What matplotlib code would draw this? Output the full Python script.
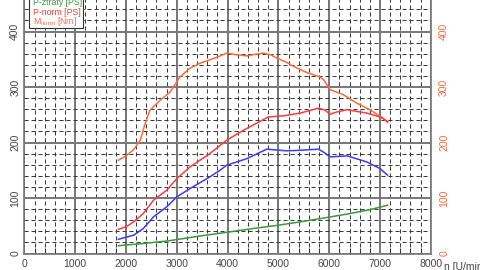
import matplotlib
matplotlib.use("Agg")
import matplotlib.pyplot as plt
from matplotlib.patches import Rectangle
from matplotlib.ticker import MultipleLocator

plt.rcParams["font.family"] = ["Liberation Sans", "DejaVu Sans"]
plt.rcParams["mathtext.default"] = "regular"

# values
m_norm_rpm = [1850, 2000, 2150, 2280, 2380, 2470, 2670, 2870, 3060, 3260, 3460, 3650,
              3800, 3980, 4180, 4380, 4550, 4700, 4850, 4970, 5150, 5300, 5560, 5820,
              5890, 6020, 6280, 6540, 6800, 7060, 7150]
m_norm = [168, 176, 187, 204, 235, 258, 276, 291, 318, 334, 343, 349,
          354, 361, 358, 356, 359, 361, 358, 352, 345, 337, 326, 318,
          313, 295, 286, 271, 259, 244, 236]

p_norm_rpm = [1850, 2000, 2150, 2340, 2540, 2800, 3000, 3260, 3650, 3980, 4310, 4800,
              5100, 5430, 5790, 5920, 6020, 6150, 6350, 6740, 7000, 7150]
p_norm = [43.5, 48, 57, 72, 96, 114, 135, 156, 180, 204, 222, 246,
          248, 253, 262, 258, 251, 255, 259, 253, 246, 238]

p_kolo_rpm = [1850, 2150, 2340, 2540, 2800, 3000, 3260, 3650, 3850, 3980, 4380, 4770,
              5160, 5430, 5790, 5900, 6020, 6350, 6740, 7000, 7150]
p_kolo = [25.6, 33, 45, 66, 84, 102, 117, 138, 150, 159, 171, 188,
          185, 186, 188, 182, 174, 176, 165, 153, 141]

p_ztraty_rpm = [1850, 2340, 2850, 3450, 4050, 4500, 5000, 5430, 5900, 6410, 6800, 7150]
p_ztraty = [14, 18, 23, 31.5, 39, 45, 51, 57, 64, 72, 79, 87]

x_ticks = [0, 1000, 2000, 3000, 4000, 5000, 6000, 7000, 8000]
y_ticks = [0, 100, 200, 300, 400]

c_orange = "#ff6a3a"
c_red = "#ff3b3b"
c_blue = "#3b3bff"
c_green = "#3a9a3a"

W, H = 480, 270
fig = plt.figure(figsize=(4.8, 2.7), dpi=100)
# axes runs past the top edge of the picture (the original is cropped)
left, right, bottom = 24.4, 430.8, 253.5
ymax = 460
px_per_unit = 0.555
top = bottom - ymax * px_per_unit
ax = fig.add_axes([left / W, (H - bottom) / H, (right - left) / W, (bottom - top) / H])

ax.set_xlim(0, 8000)
ax.set_ylim(0, ymax)
ax.xaxis.set_major_locator(MultipleLocator(1000))
ax.xaxis.set_minor_locator(MultipleLocator(200))
ax.yaxis.set_major_locator(MultipleLocator(100))
ax.yaxis.set_minor_locator(MultipleLocator(20))
ax.grid(which="minor", color="#333333", linestyle=(0, (4.2, 3)), linewidth=0.7)
ax.grid(which="major", color="#777777", linestyle="-", linewidth=1.4)
ax.set_axisbelow(True)

for s in ax.spines.values():
    s.set_color("#777777")
    s.set_linewidth(1.2)

ax.set_xticks(x_ticks)
ax.set_yticks(y_ticks)
ax.tick_params(axis="x", which="major", length=0, pad=4, labelsize=7.5, colors="#444444")
ax.tick_params(axis="x", which="minor", direction="in", length=4, width=0.8, color="#333333")
ax.tick_params(axis="y", which="both", length=0, pad=3, labelsize=7.5, colors="#444444")
for lbl in ax.get_yticklabels():
    lbl.set_rotation(90)
    lbl.set_va("center")

ax.plot(m_norm_rpm, m_norm, color=c_orange, lw=1.1)
ax.plot(p_norm_rpm, p_norm, color=c_red, lw=1.1)
ax.plot(p_kolo_rpm, p_kolo, color=c_blue, lw=1.1)
ax.plot(p_ztraty_rpm, p_ztraty, color=c_green, lw=1.1)

ax2 = ax.twinx()
ax2.set_ylim(0, ymax)
ax2.set_yticks(y_ticks)
ax2.tick_params(axis="y", length=0, pad=6, labelsize=7.5, colors=c_orange)
for lbl in ax2.get_yticklabels():
    lbl.set_rotation(90)
    lbl.set_va("center")
for s in ax2.spines.values():
    s.set_visible(False)

# legend box, its top is cut off by the picture edge like in the original
leg_labels = ["P-kolo [PS]", "P-ztráty [PS]", "P-norm [PS]", r"M$_{norm}$ [Nm]"]
leg_colors = [c_blue, c_green, c_red, c_orange]
box = Rectangle((29 / W, (H - 28) / H), 54 / W, 40 / H, transform=fig.transFigure,
                facecolor="white", edgecolor="#333333", linewidth=0.8, zorder=5)
fig.patches.append(box)
for i, (lab, col) in enumerate(zip(leg_labels, leg_colors)):
    y_px = 22 - 9.8 * (len(leg_labels) - 1 - i)
    fig.text(33 / W, (H - y_px) / H, lab, color=col, fontsize=6.3,
             va="center", ha="left", zorder=6)

fig.text(444 / W, (H - 262) / H, "n [U/min]", fontsize=7.5, color="#444444", va="top")

fig.savefig("out.png", dpi=100)
